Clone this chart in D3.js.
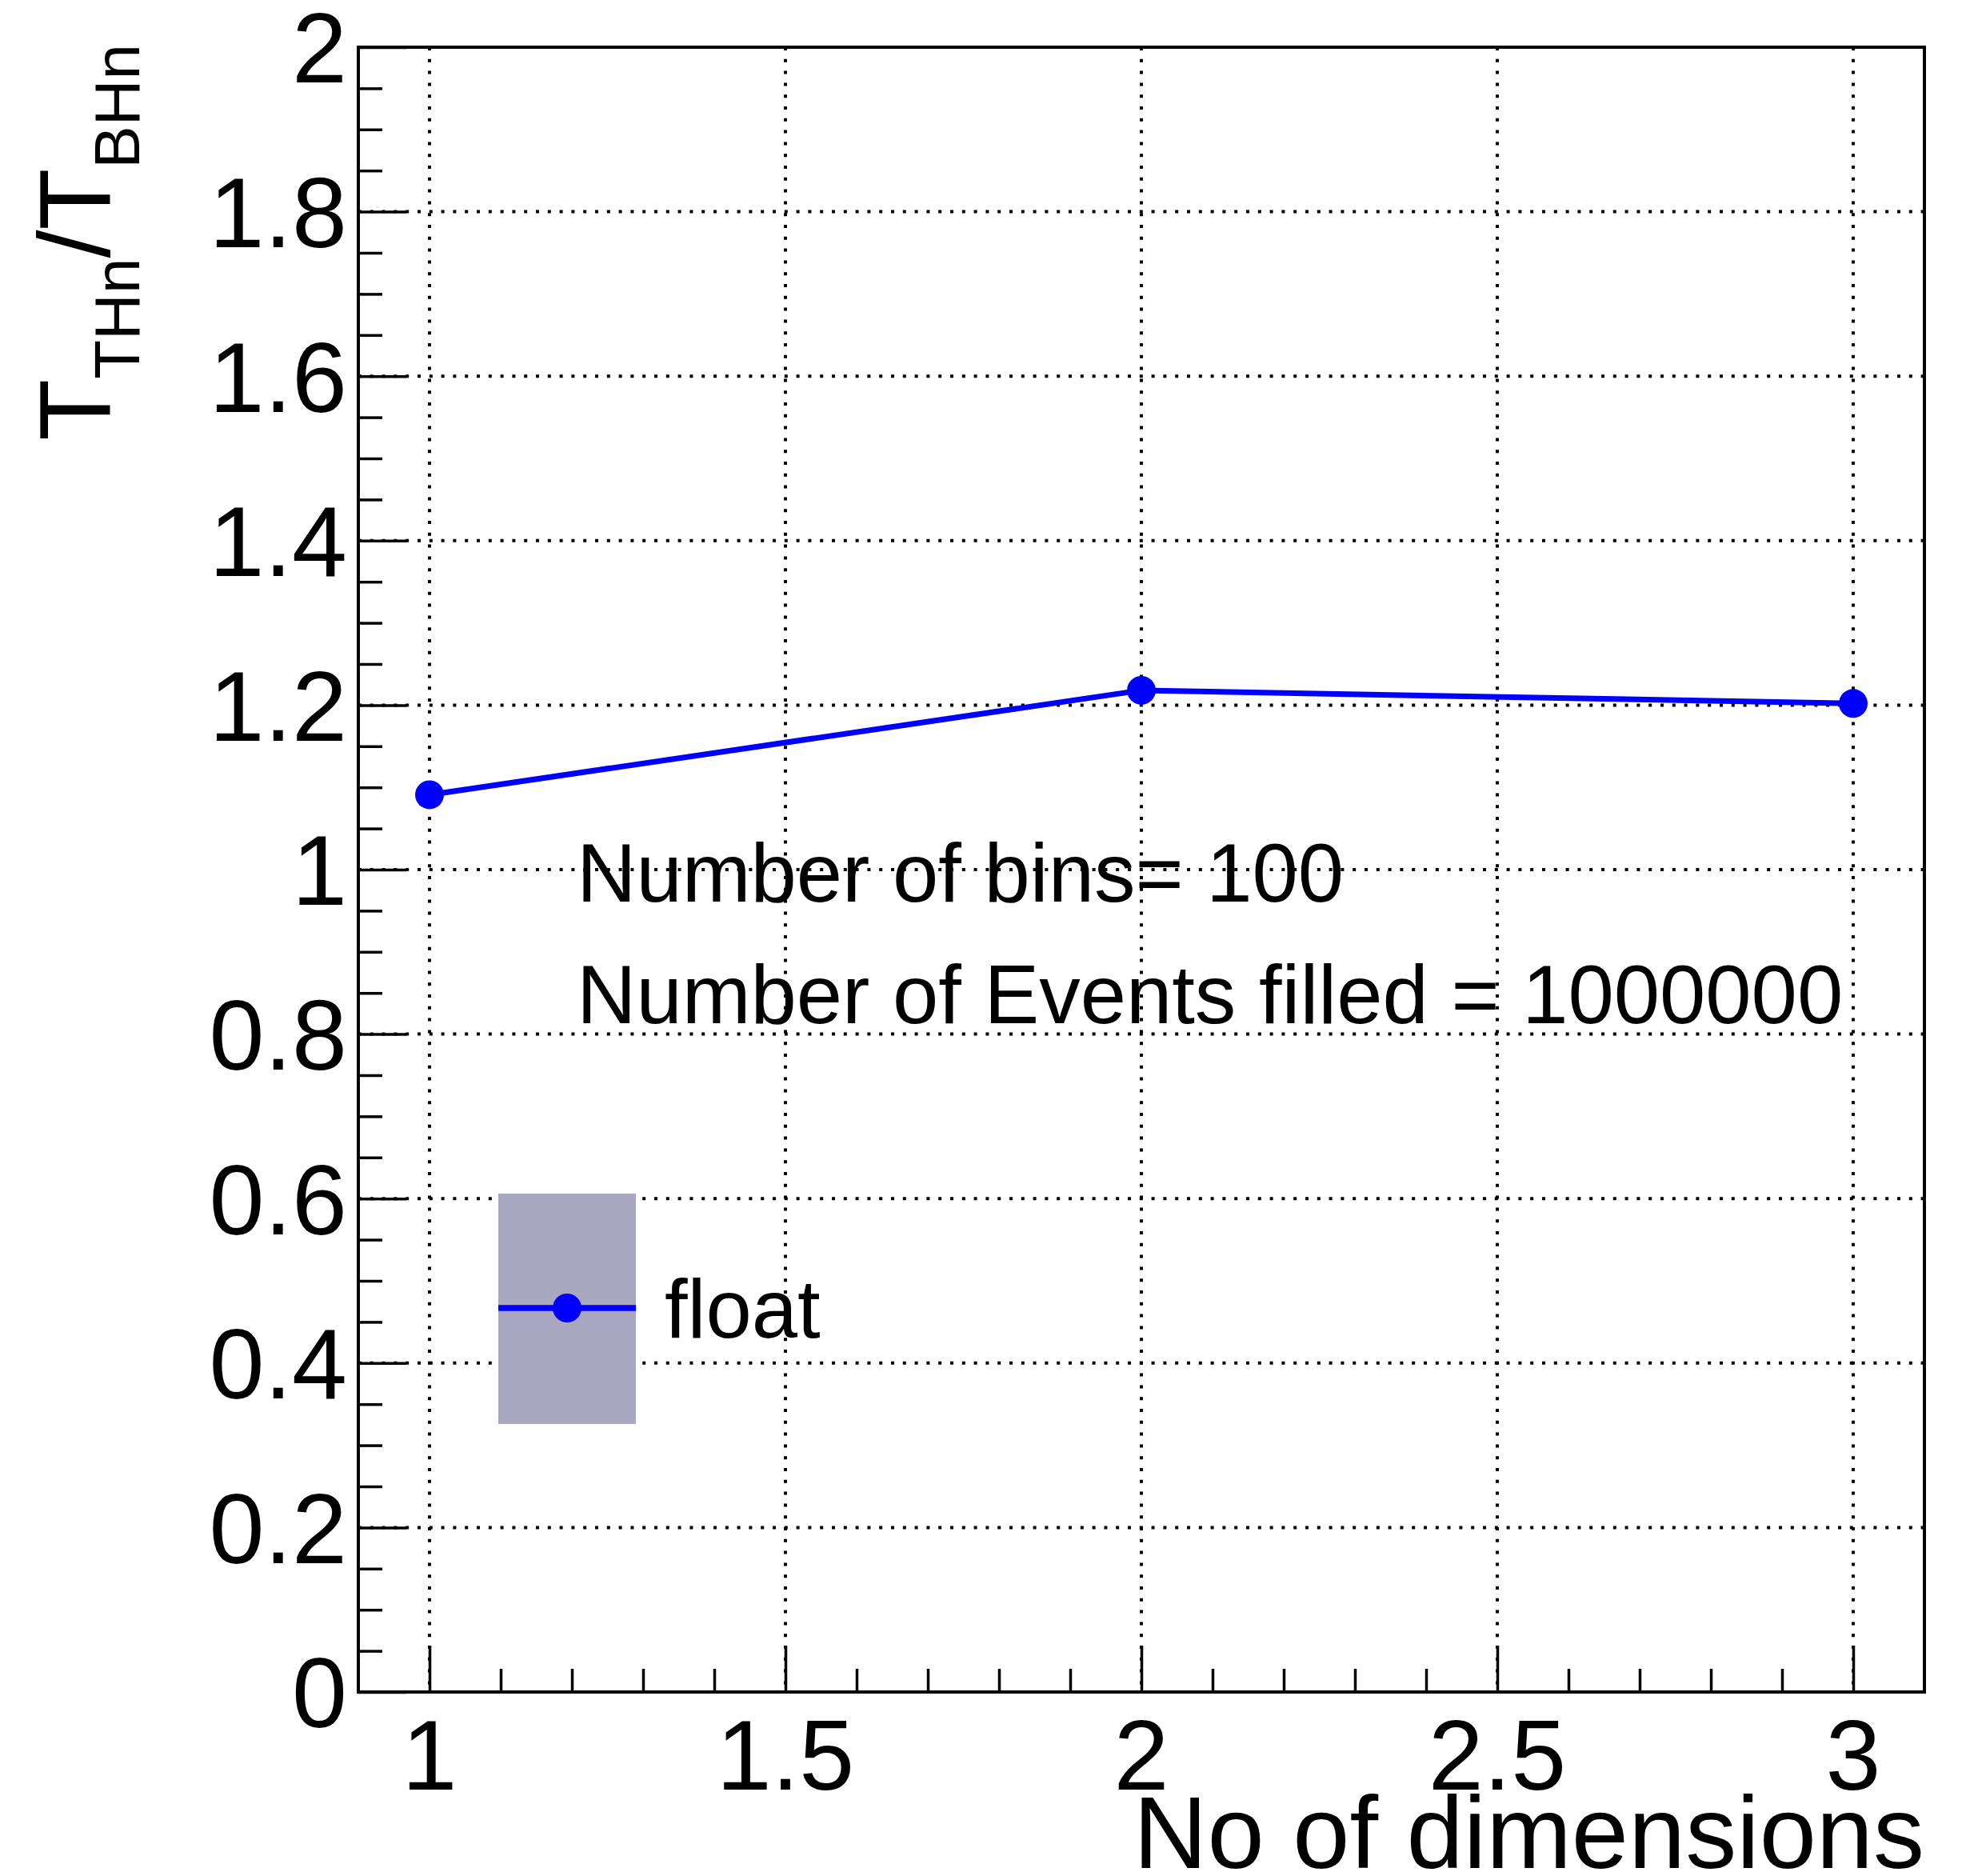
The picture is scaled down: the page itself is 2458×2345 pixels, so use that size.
<!DOCTYPE html>
<html>
<head>
<meta charset="utf-8">
<script src="https://cdn.jsdelivr.net/npm/d3@7"></script>
<style>
  html, body { margin: 0; padding: 0; background: #ffffff; }
  svg { display: block; }
  text { font-family: "Liberation Sans", Arial, Helvetica, sans-serif; fill: #000; }
</style>
</head>
<body>
<svg id="chart" width="2458" height="2345"></svg>
<script>
// Timing ratio THn / BHn versus number of dimensions
const dims = [1, 2, 3];
const ratios = [1.091, 1.218, 1.202];

const xMajorTicks = [1, 1.5, 2, 2.5, 3];
const xTickLabels = ["1", "1.5", "2", "2.5", "3"];
const yMajorTicks = [0, 0.2, 0.4, 0.6, 0.8, 1, 1.2, 1.4, 1.6, 1.8, 2];
const yTickLabels = ["0", "0.2", "0.4", "0.6", "0.8", "1", "1.2", "1.4", "1.6", "1.8", "2"];

const seriesName = "float";
const infoLines = ["Number of bins= 100", "Number of Events filled = 1000000"];
const xTitle = "No of dimensions";

const W = 2458, H = 2345;
const frame = { left: 448, right: 2406, top: 59, bottom: 2115 };

const svg = d3.select("#chart");
svg.append("rect").attr("width", W).attr("height", H).attr("fill", "#fff");

const x = d3.scaleLinear().domain([0.9, 3.1]).range([frame.left, frame.right]);
const y = d3.scaleLinear().domain([0, 2]).range([frame.bottom, frame.top]);

// minor ticks: x every 0.1, y every 0.05
const xMinor = d3.range(0, 23).map(i => +(0.9 + i * 0.1).toFixed(2))
  .filter(v => !xMajorTicks.includes(v) && v > 0.9 && v < 3.1);
const yMinor = d3.range(0, 41).map(i => +(i * 0.05).toFixed(2))
  .filter(v => !yMajorTicks.includes(v));

// dotted grid
const grid = svg.append("g").attr("stroke", "#000").attr("stroke-width", 4)
  .attr("stroke-dasharray", "4 10.8").attr("fill", "none");
grid.selectAll("line.gx").data(xMajorTicks).join("line")
  .attr("x1", d => x(d)).attr("x2", d => x(d))
  .attr("y1", frame.top).attr("y2", frame.bottom);
grid.selectAll("line.gy").data(yMajorTicks.filter(v => v > 0 && v < 2)).join("line")
  .attr("x1", frame.left).attr("x2", frame.right)
  .attr("y1", d => y(d)).attr("y2", d => y(d));

// axes via d3 axis generators, ticks pointing into the frame
const axisStyle = g => {
  g.select(".domain").remove();
  g.selectAll("line").attr("stroke", "#000").attr("stroke-width", 3.5);
};

svg.append("g").attr("transform", `translate(0,${frame.bottom})`)
  .call(d3.axisTop(x).tickValues(xMinor).tickSize(29).tickFormat(""))
  .call(axisStyle);
svg.append("g").attr("transform", `translate(0,${frame.bottom})`)
  .call(d3.axisTop(x).tickValues(xMajorTicks).tickSize(58).tickFormat(""))
  .call(axisStyle);
svg.append("g").attr("transform", `translate(${frame.left},0)`)
  .call(d3.axisRight(y).tickValues(yMinor).tickSize(30).tickFormat(""))
  .call(axisStyle);
svg.append("g").attr("transform", `translate(${frame.left},0)`)
  .call(d3.axisRight(y).tickValues(yMajorTicks).tickSize(60).tickFormat(""))
  .call(axisStyle);

// tick labels
const tickFont = 124;
svg.append("g").selectAll("text").data(xMajorTicks).join("text")
  .attr("x", d => x(d)).attr("y", 2237)
  .attr("text-anchor", "middle").attr("font-size", tickFont)
  .text((d, i) => xTickLabels[i]);
svg.append("g").selectAll("text").data(yMajorTicks).join("text")
  .attr("x", 434).attr("y", d => y(d) + tickFont * 0.358)
  .attr("text-anchor", "end").attr("font-size", tickFont)
  .text((d, i) => yTickLabels[i]);

// frame
svg.append("rect")
  .attr("x", frame.left).attr("y", frame.top)
  .attr("width", frame.right - frame.left).attr("height", frame.bottom - frame.top)
  .attr("fill", "none").attr("stroke", "#000").attr("stroke-width", 4);

// data line with markers
const blue = "#0000ff";
const line = d3.line().x((d, i) => x(dims[i])).y(d => y(d));
svg.append("path").datum(ratios)
  .attr("d", line).attr("fill", "none")
  .attr("stroke", blue).attr("stroke-width", 7);
svg.append("g").selectAll("circle").data(ratios).join("circle")
  .attr("cx", (d, i) => x(dims[i])).attr("cy", d => y(d))
  .attr("r", 18).attr("fill", blue);

// info text
const infoFont = 103;
svg.append("g").selectAll("text").data(infoLines).join("text")
  .attr("x", 721).attr("y", (d, i) => 1127 + i * 152)
  .attr("font-size", infoFont).text(d => d);

// legend
const leg = svg.append("g");
leg.append("rect").attr("x", 623).attr("y", 1492).attr("width", 172).attr("height", 288)
  .attr("fill", "#aaa8c1");
leg.append("line").attr("x1", 623).attr("x2", 795).attr("y1", 1635).attr("y2", 1635)
  .attr("stroke", blue).attr("stroke-width", 7.5);
leg.append("circle").attr("cx", 709).attr("cy", 1635).attr("r", 18).attr("fill", blue);
leg.append("text").attr("x", 831).attr("y", 1672).attr("font-size", infoFont).text(seriesName);

// axis titles
svg.append("text").attr("x", frame.right).attr("y", 2335)
  .attr("text-anchor", "end").attr("font-size", 128).text(xTitle);

const yT = svg.append("text")
  .attr("transform", "translate(137,55) rotate(-90)")
  .attr("text-anchor", "end").attr("font-size", 126);
yT.append("tspan").text("T");
yT.append("tspan").attr("font-size", 80).attr("dy", 37).text("THn");
yT.append("tspan").attr("dy", -37).text("/T");
yT.append("tspan").attr("font-size", 80).attr("dy", 37).text("BHn");
</script>
</body>
</html>
